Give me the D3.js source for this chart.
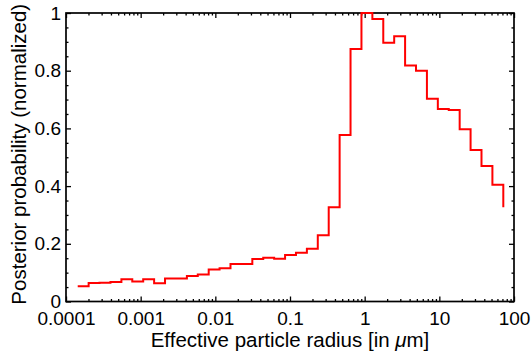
<!DOCTYPE html>
<html>
<head>
<meta charset="UTF-8">
<script src="https://d3js.org/d3.v7.min.js"></script>
<style>
  body { margin: 0; background: #fff; }
  text { font-family: "Liberation Sans", Arial, Helvetica, sans-serif; fill: #000; }
</style>
</head>
<body>
<svg></svg>
<script>
// bin edges (radius in micrometres)
const binEdges = [
  0.0001435, 0.000201, 0.000281, 0.000394, 0.000552, 0.000772, 0.001081, 0.001514,
  0.00212, 0.00297, 0.00416, 0.00582, 0.00815, 0.0114, 0.01596, 0.02234,
  0.03129, 0.04381, 0.06133, 0.0859, 0.1202, 0.1683, 0.2356, 0.33,
  0.462, 0.6468, 0.9057, 1.268, 1.775, 2.485, 3.479, 4.871,
  6.82, 9.548, 13.37, 18.72, 26.21, 36.7, 51.38, 71.9
];
// normalized posterior per bin
const posterior = [
  0.053, 0.064, 0.065, 0.068, 0.077, 0.069, 0.077, 0.063,
  0.080, 0.080, 0.088, 0.094, 0.111, 0.115, 0.130, 0.130,
  0.147, 0.152, 0.148, 0.161, 0.169, 0.183, 0.230, 0.327,
  0.577, 0.875, 1.000, 0.979, 0.897, 0.919, 0.818, 0.800,
  0.703, 0.667, 0.664, 0.597, 0.525, 0.470, 0.405
];
const endValue = 0.327;

const xTicks = [0.0001, 0.001, 0.01, 0.1, 1, 10, 100];
const xTickLabels = ["0.0001", "0.001", "0.01", "0.1", "1", "10", "100"];
const yTicks = [0, 0.2, 0.4, 0.6, 0.8, 1];
const yTickLabels = ["0", "0.2", "0.4", "0.6", "0.8", "1"];

const width = 532, height = 356;
const margin = {top: 13, right: 18, bottom: 54.5, left: 66};

const svg = d3.select("svg").attr("width", width).attr("height", height);

const x = d3.scaleLog()
  .domain([0.0001, 100])
  .range([margin.left, width - margin.right]);
const y = d3.scaleLinear()
  .domain([0, 1])
  .range([height - margin.bottom, margin.top]);

const major = 5, minor = 2.5;
const xMinor = x.ticks().filter(v => !xTicks.some(t => Math.abs(t - v) / t < 1e-6));
const yMinor = y.ticks(20).filter(v => !yTicks.some(t => Math.abs(t - v) < 1e-6));

function styleAxis(g) {
  g.select(".domain").remove();
  g.selectAll(".tick line").attr("stroke", "#000").attr("stroke-width", 1.3);
  g.selectAll(".tick text").attr("font-size", 19).attr("fill", "#000")
    .style("font-family", '"Liberation Sans", Arial, Helvetica, sans-serif');
}

// bottom axis
svg.append("g")
  .attr("transform", `translate(0,${height - margin.bottom})`)
  .call(d3.axisBottom(x).tickValues(xTicks).tickFormat((d, i) => xTickLabels[i])
    .tickSizeInner(-major).tickSizeOuter(0).tickPadding(10))
  .call(styleAxis);
svg.append("g")
  .attr("transform", `translate(0,${height - margin.bottom})`)
  .call(d3.axisBottom(x).tickValues(xMinor).tickFormat("").tickSizeInner(-minor).tickSizeOuter(0))
  .call(styleAxis);
// top axis
svg.append("g")
  .attr("transform", `translate(0,${margin.top})`)
  .call(d3.axisTop(x).tickValues(xTicks).tickFormat("").tickSizeInner(-major).tickSizeOuter(0))
  .call(styleAxis);
svg.append("g")
  .attr("transform", `translate(0,${margin.top})`)
  .call(d3.axisTop(x).tickValues(xMinor).tickFormat("").tickSizeInner(-minor).tickSizeOuter(0))
  .call(styleAxis);
// left axis
svg.append("g")
  .attr("transform", `translate(${margin.left},0)`)
  .call(d3.axisLeft(y).tickValues(yTicks).tickFormat((d, i) => yTickLabels[i])
    .tickSizeInner(-major).tickSizeOuter(0).tickPadding(5))
  .call(styleAxis);
svg.append("g")
  .attr("transform", `translate(${margin.left},0)`)
  .call(d3.axisLeft(y).tickValues(yMinor).tickFormat("").tickSizeInner(-minor).tickSizeOuter(0))
  .call(styleAxis);
// right axis
svg.append("g")
  .attr("transform", `translate(${width - margin.right},0)`)
  .call(d3.axisRight(y).tickValues(yTicks).tickFormat("").tickSizeInner(-major).tickSizeOuter(0))
  .call(styleAxis);
svg.append("g")
  .attr("transform", `translate(${width - margin.right},0)`)
  .call(d3.axisRight(y).tickValues(yMinor).tickFormat("").tickSizeInner(-minor).tickSizeOuter(0))
  .call(styleAxis);

// frame
svg.append("rect")
  .attr("x", margin.left)
  .attr("y", margin.top)
  .attr("width", width - margin.left - margin.right)
  .attr("height", height - margin.top - margin.bottom)
  .attr("fill", "none")
  .attr("stroke", "#000")
  .attr("stroke-width", 1.7);

// step histogram
const pts = posterior.map((v, i) => [binEdges[i], v]);
pts.push([binEdges[binEdges.length - 1], endValue]);

const line = d3.line()
  .x(d => x(d[0]))
  .y(d => y(d[1]))
  .curve(d3.curveStepAfter);

svg.append("path")
  .datum(pts)
  .attr("d", line)
  .attr("fill", "none")
  .attr("stroke", "#ff0000")
  .attr("stroke-width", 2);

// axis labels
const xLabel = svg.append("text")
  .attr("x", (margin.left + width - margin.right) / 2)
  .attr("y", 347)
  .attr("text-anchor", "middle")
  .attr("font-size", 20.5);
xLabel.append("tspan").text("Effective particle radius [in ");
xLabel.append("tspan").attr("font-style", "italic").text("μ");
xLabel.append("tspan").text("m]");

svg.append("text")
  .attr("transform", `translate(26,${(margin.top + height - margin.bottom) / 2 - 3}) rotate(-90)`)
  .attr("text-anchor", "middle")
  .attr("font-size", 20.5)
  .text("Posterior probability (normalized)");
</script>
</body>
</html>
